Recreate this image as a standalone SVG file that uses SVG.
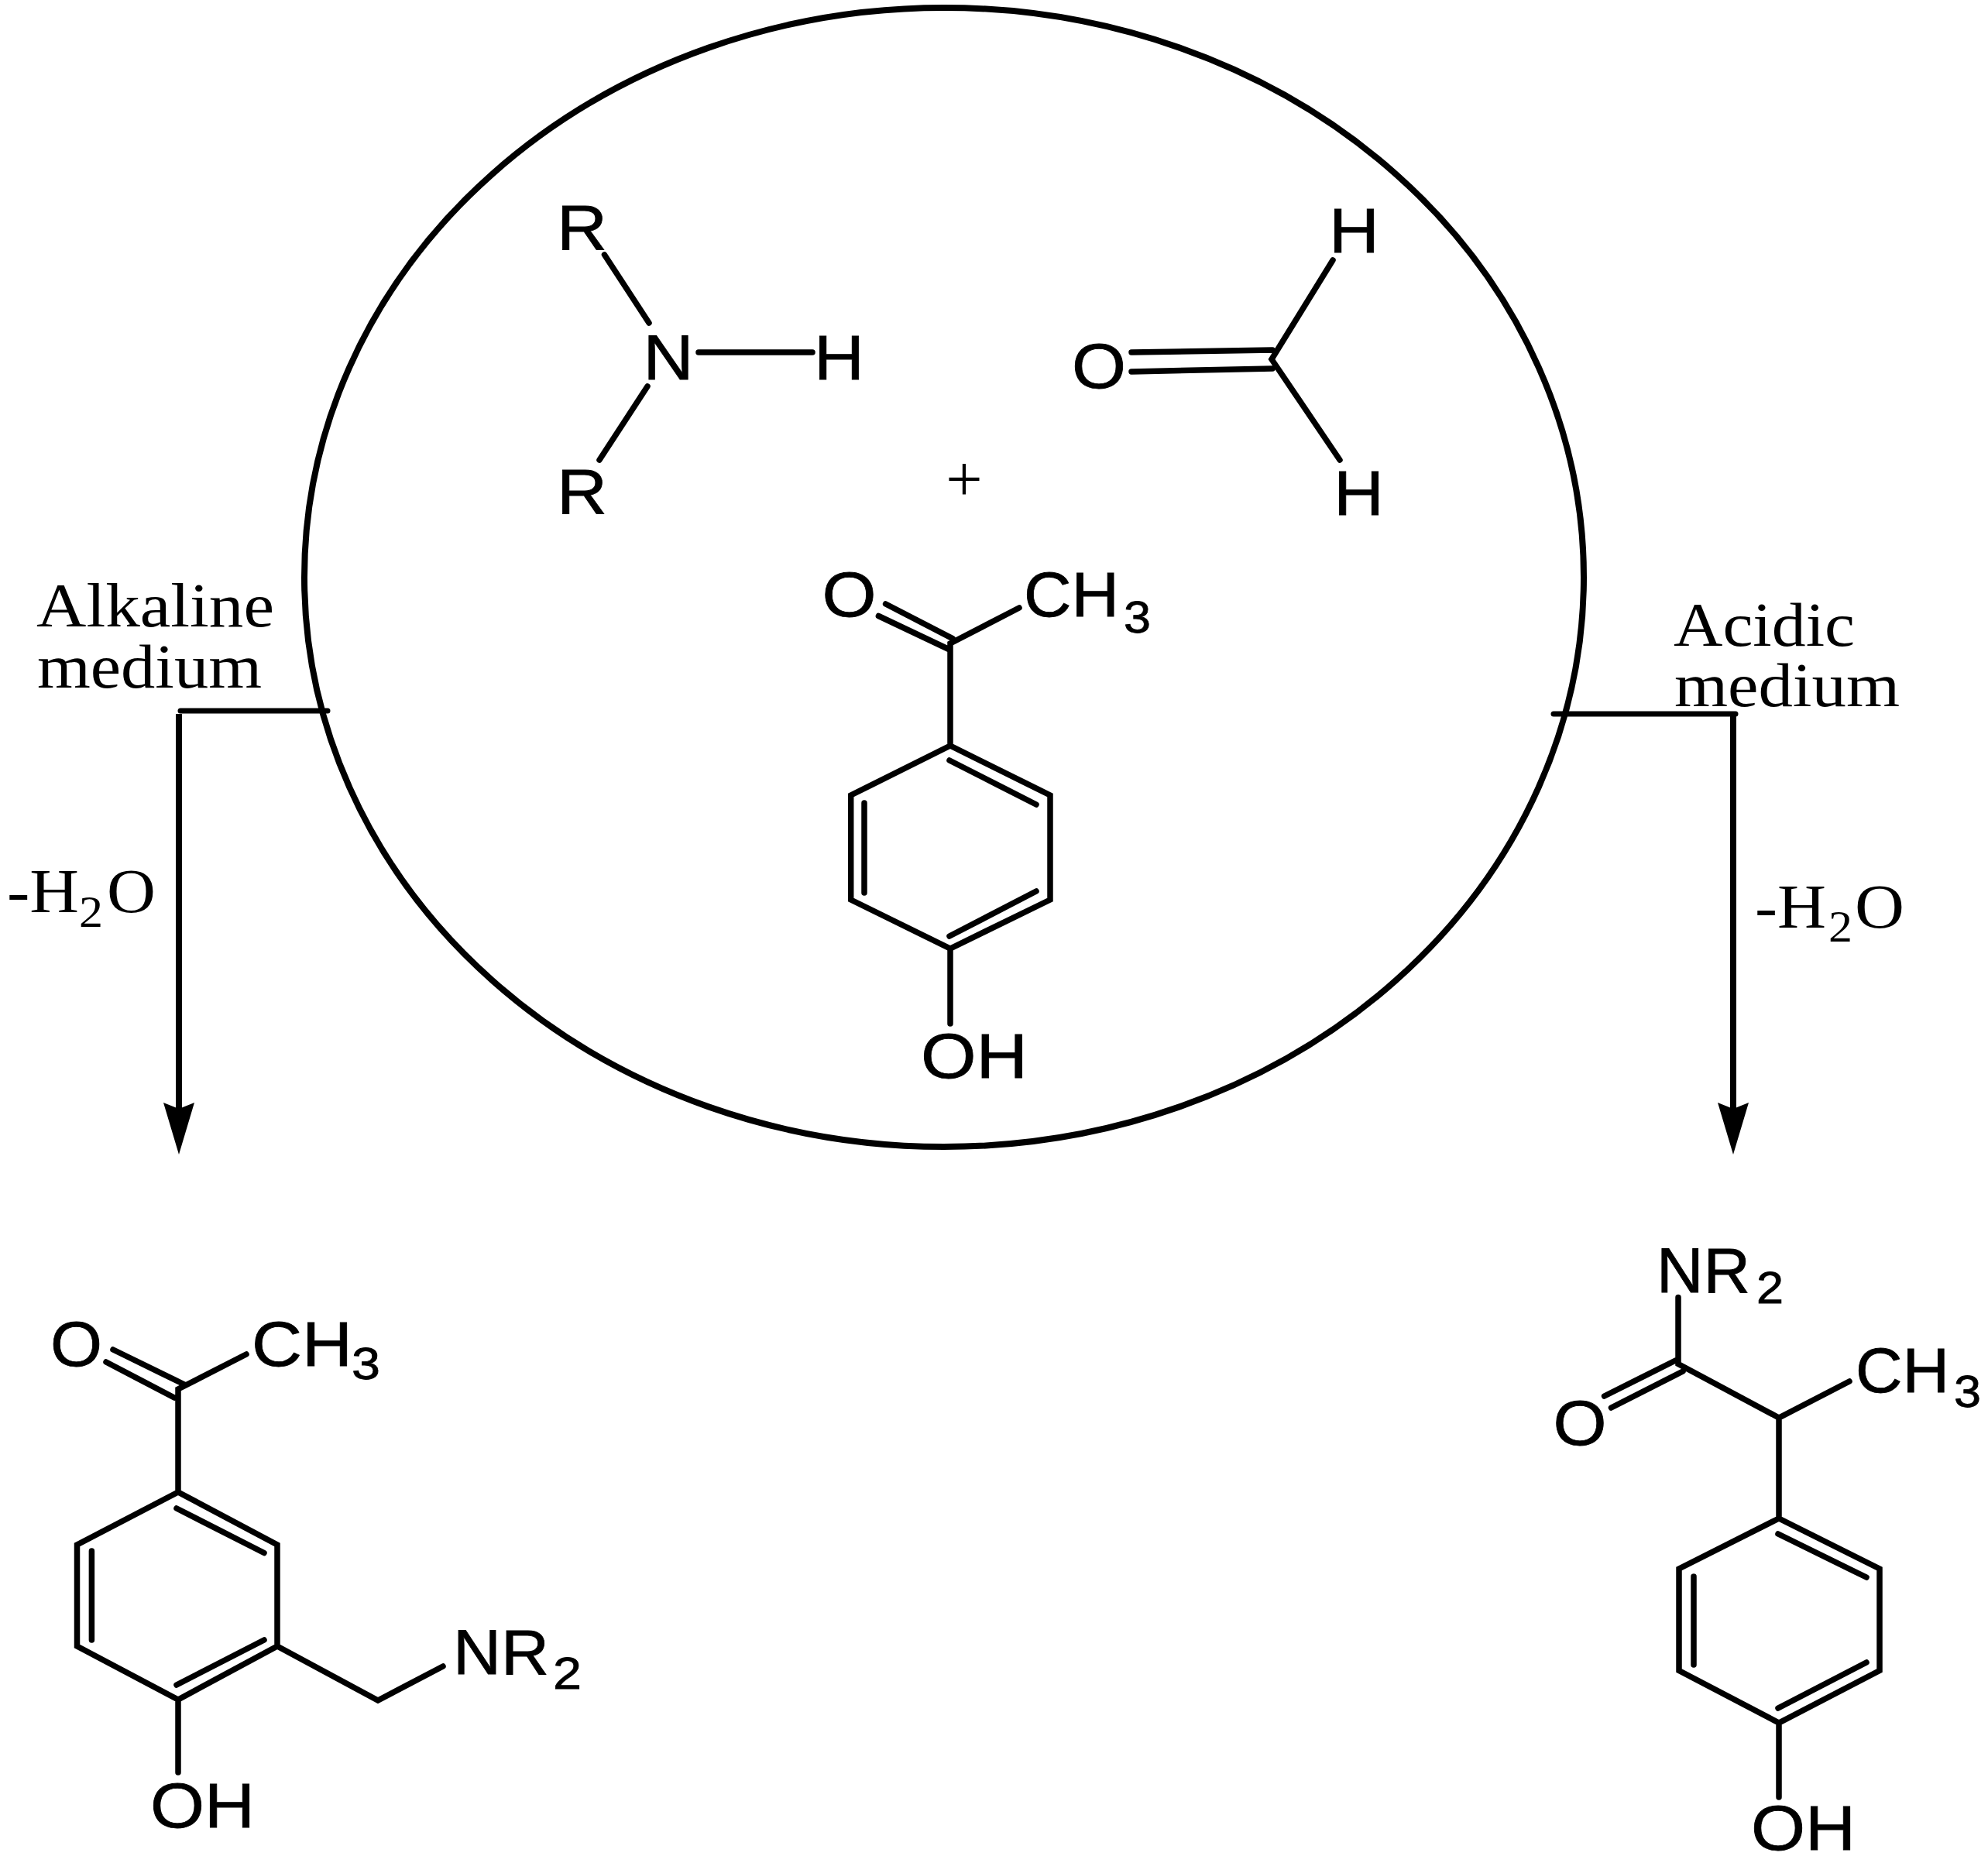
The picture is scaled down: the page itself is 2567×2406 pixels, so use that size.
<svg xmlns="http://www.w3.org/2000/svg" width="2567" height="2406" viewBox="0 0 2567 2406">
<style>
text{fill:#000;stroke:none}
.c{font-family:"Liberation Sans",Arial,sans-serif;font-size:82px;stroke:#000;stroke-width:0.8}
.c .s{font-size:58px}
.m{font-family:"Liberation Serif","Times New Roman",serif;font-size:80px}
.m .s{font-size:58px}
.p{font-size:84px}
.b{fill:none;stroke:#000;stroke-width:7.5;stroke-linecap:round;stroke-linejoin:miter}
.l{fill:none;stroke:#000;stroke-width:7;stroke-linecap:round}
.a{fill:none;stroke:#000;stroke-width:8;marker-end:url(#head)}
</style>
<defs>
<marker id="head" markerUnits="userSpaceOnUse" markerWidth="70" markerHeight="42" viewBox="0 -21 70 42" refX="8" refY="0" orient="auto" overflow="visible">
<path d="M0,-20 L67,0 L0,20 L8,0 Z" fill="#000"/>
</marker>
</defs>
<rect width="2567" height="2406" fill="#fff"/>
<g id="vessel"><ellipse cx="1219" cy="745.5" rx="826" ry="735.5" fill="none" stroke="#000" stroke-width="8"/></g>
<g id="connectors">
<path class="l" d="M233,918H423"/>
<path class="a" d="M231,922V1432"/>
<path class="l" d="M2006,922H2241"/>
<path class="a" d="M2238,922V1432"/>
</g>
<g id="amine">
<path class="b" d="M780.5,329L838,417M902,455H1049M836,499L774,594"/>
<text class="c" x="719" y="322" textLength="65" lengthAdjust="spacingAndGlyphs">R</text>
<text class="c" x="830.5" y="490" textLength="65" lengthAdjust="spacingAndGlyphs">N</text>
<text class="c" x="1051" y="490" textLength="65" lengthAdjust="spacingAndGlyphs">H</text>
<text class="c" x="719" y="663" textLength="65" lengthAdjust="spacingAndGlyphs">R</text>
</g>
<g id="formaldehyde">
<path class="b" d="M1461,455L1643,452M1461,480L1643,476M1721,336L1642,464L1730,594"/>
<text class="c" x="1384" y="501" textLength="70" lengthAdjust="spacingAndGlyphs">O</text>
<text class="c" x="1716" y="326" textLength="65" lengthAdjust="spacingAndGlyphs">H</text>
<text class="c" x="1722" y="665" textLength="65" lengthAdjust="spacingAndGlyphs">H</text>
</g>
<g id="plus"><text class="m p" x="1245" y="647" text-anchor="middle">+</text></g>
<g id="hydroxyacetophenone">
<path class="b" d="M1143.6,780L1230,824.6M1134.4,795.5L1224,838M1316,785L1227,831V963L1356,1027V1162L1227,1225L1098.7,1162V1027L1227,963M1226,982L1338,1039M1116,1037V1153M1226,1209L1338,1151M1227,1225V1322"/>
<text class="c" x="1061.5" y="796" textLength="70" lengthAdjust="spacingAndGlyphs">O</text>
<text class="c"><tspan x="1322" y="796" textLength="123" lengthAdjust="spacingAndGlyphs">CH</tspan><tspan class="s" x="1451" y="817" textLength="35" lengthAdjust="spacingAndGlyphs">3</tspan></text>
<text class="c" x="1189" y="1392" textLength="138" lengthAdjust="spacingAndGlyphs">OH</text>
</g>
<g id="label-alkaline">
<text class="m" x="47" y="809" textLength="307" lengthAdjust="spacingAndGlyphs">Alkaline</text>
<text class="m" x="48" y="888" textLength="290" lengthAdjust="spacingAndGlyphs">medium</text>
<text class="m"><tspan x="9" y="1178" textLength="93" lengthAdjust="spacingAndGlyphs">-H</tspan><tspan class="s" x="102" y="1197" textLength="31" lengthAdjust="spacingAndGlyphs">2</tspan><tspan x="138" y="1178" textLength="63" lengthAdjust="spacingAndGlyphs">O</tspan></text>
</g>
<g id="label-acidic">
<text class="m" x="2161" y="834" textLength="234" lengthAdjust="spacingAndGlyphs">Acidic</text>
<text class="m" x="2162" y="912" textLength="291" lengthAdjust="spacingAndGlyphs">medium</text>
<text class="m"><tspan x="2266" y="1198" textLength="92" lengthAdjust="spacingAndGlyphs">-H</tspan><tspan class="s" x="2361" y="1216" textLength="31" lengthAdjust="spacingAndGlyphs">2</tspan><tspan x="2395" y="1198" textLength="64" lengthAdjust="spacingAndGlyphs">O</tspan></text>
</g>
<g id="product-alkaline">
<path class="b" d="M146,1743L238,1788M137,1759L225,1805M318,1749L230,1794V1927L358,1995V2126L230,2195L99.5,2126V1995L230,1927M228,1948L341,2005.5M118.4,2003V2118M228,2176L341,2118M358,2126L488,2196L572,2152M230,2195V2289"/>
<text class="c" x="65" y="1764" textLength="67" lengthAdjust="spacingAndGlyphs">O</text>
<text class="c"><tspan x="325" y="1764" textLength="130" lengthAdjust="spacingAndGlyphs">CH</tspan><tspan class="s" x="454" y="1781" textLength="37" lengthAdjust="spacingAndGlyphs">3</tspan></text>
<text class="c"><tspan x="585" y="2162" textLength="124" lengthAdjust="spacingAndGlyphs">NR</tspan><tspan class="s" x="714" y="2181" textLength="37" lengthAdjust="spacingAndGlyphs">2</tspan></text>
<text class="c" x="194" y="2360" textLength="135" lengthAdjust="spacingAndGlyphs">OH</text>
</g>
<g id="product-acidic">
<path class="b" d="M2167,1675.5V1761.5L2297,1831L2388,1784M2164.5,1756.5L2071.6,1803M2173,1771L2080.5,1818M2297,1831V1961L2427,2026V2157.5L2297,2225L2168,2157.5V2026L2297,1961M2296,1981L2410,2037M2187,2036V2150M2296,2206L2410,2147M2297,2225V2321"/>
<text class="c"><tspan x="2139" y="1669" textLength="121" lengthAdjust="spacingAndGlyphs">NR</tspan><tspan class="s" x="2268" y="1683" textLength="35" lengthAdjust="spacingAndGlyphs">2</tspan></text>
<text class="c" x="2005.6" y="1866" textLength="69" lengthAdjust="spacingAndGlyphs">O</text>
<text class="c"><tspan x="2396" y="1798" textLength="121" lengthAdjust="spacingAndGlyphs">CH</tspan><tspan class="s" x="2523" y="1817" textLength="35" lengthAdjust="spacingAndGlyphs">3</tspan></text>
<text class="c" x="2261" y="2389" textLength="135" lengthAdjust="spacingAndGlyphs">OH</text>
</g>
</svg>
